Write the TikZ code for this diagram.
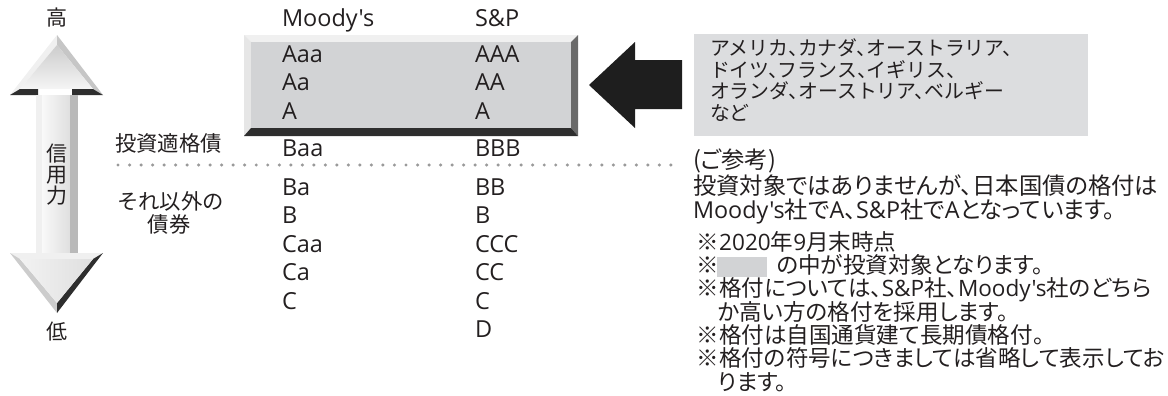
\documentclass[tikz,border=0pt]{standalone}
\usepackage{fontspec}
\setmainfont{Noto Sans CJK JP}[RawFeature=+palt]
\newfontfamily\jpm{Noto Sans CJK JP}
\newfontfamily\osans{Open Sans}
\newcommand\jten{、\kern-.5em}
\definecolor{txt}{HTML}{231F20}
\definecolor{face}{HTML}{D2D3D5}
\definecolor{boxgray}{HTML}{DCDDDF}
\definecolor{bevtop}{HTML}{F0F0F0}
\definecolor{bevleft}{HTML}{E6E6E6}
\definecolor{bevright}{HTML}{6A6A6A}
\definecolor{bevbot}{HTML}{2E2E2E}
\definecolor{arrblack}{HTML}{1E1E1E}
\definecolor{dotgray}{HTML}{9A9A9A}
\begin{document}
\begin{tikzpicture}[x=0.75pt,y=-0.75pt,
  every node/.style={inner sep=0pt,outer sep=0pt,text=txt},
  rt/.style={anchor=base west,font=\osans\fontsize{17.6}{20}\selectfont},
  lab/.style={font=\jpm\fontsize{16}{19}\selectfont,text height=0.8em,text depth=0.08em},
  ar/.style={anchor=base,font=\jpm\fontsize{15.75}{18}\selectfont},
  gb/.style={anchor=base west,font=\jpm\fontsize{14.9}{18}\selectfont,text height=0.8em,text depth=0.1em},
  nt/.style={anchor=base west,font=\fontsize{17.5}{20}\selectfont,text height=0.8em,text depth=0.1em},
  nl/.style={anchor=base west,font=\fontsize{16.9}{20}\selectfont,text height=0.8em,text depth=0.1em}]
\useasboundingbox (0,0) rectangle (1168,396);

% ---------- double arrow (credit) ----------
% up head
\fill[color=bevtop] (57,35) -- (10,95) -- (20,89) -- (57,45) -- cycle;
\fill[color=gray!45] (57,35) -- (103,95) -- (93,89) -- (57,45) -- cycle;
\shade[top color=gray!40,bottom color=gray!8] (57,45) -- (20,89) -- (93,89) -- cycle;
\fill[color=bevbot] (10,95) -- (20,89) -- (38,89) -- (38,95) -- cycle;
\fill[color=bevbot] (72,89) -- (93,89) -- (103,95) -- (72,95) -- cycle;
% shaft
\fill[color=bevtop] (36,95) rectangle (42,253);
\shade[left color=gray!5,right color=gray!25] (42,95) rectangle (70,253);
\fill[color=gray!55] (70,95) rectangle (78,253);
% down head
\fill[color=gray!12] (10,253) -- (103,253) -- (93,259) -- (20,259) -- cycle;
\fill[color=gray!40] (10,253) -- (20,259) -- (57,303) -- (57,313) -- cycle;
\fill[color=bevbot] (103,253) -- (93,259) -- (57,303) -- (57,313) -- cycle;
\shade[left color=gray!10,right color=gray!25] (20,259) -- (93,259) -- (57,303) -- cycle;

\node[ar] (hi) at (57,25.5) {高};
\node[ar] (lo) at (57,339) {低};
\node[ar] (c1) at (57,161) {信};
\node[ar] (c2) at (57,182) {用};
\node[ar] (c3) at (57,203) {力};

% ---------- left labels ----------
\node[lab,anchor=base west] (inv) at (115,151) {投資適格債};
\node[lab,anchor=base west] (oth1) at (117,209.6) {それ以外の};
\node[lab,anchor=base] (oth2) at (169,232) {債券};

% ---------- bevelled box ----------
\fill[color=bevtop] (244,35) -- (578,35) -- (571,42) -- (251,42) -- cycle;
\fill[color=bevleft] (244,35) -- (251,42) -- (251,128) -- (244,136) -- cycle;
\fill[color=bevright] (578,35) -- (578,136) -- (571,128) -- (571,42) -- cycle;
\fill[color=bevbot] (244,136) -- (578,136) -- (571,128) -- (251,128) -- cycle;
\fill[color=face] (251,42) rectangle (571,128);

% dotted separator
\draw[color=dotgray,line width=2.6pt,line cap=round,dash pattern=on 0pt off 8.64pt] (118,165) -- (672,165);

% ---------- ratings ----------
\node[rt] (hm) at (282,26.5) {Moody's};
\node[rt] (hs) at (475,26.5) {S\&P};
\node[rt] (m1) at (282,62.3) {Aaa};
\node[rt] (s1) at (475,62.3) {AAA};
\node[rt] (m2) at (282,90.8) {Aa};
\node[rt] (s2) at (475,90.8) {AA};
\node[rt] (m3) at (282,119.3) {A};
\node[rt] (s3) at (475,119.3) {A};
\node[rt] (m4) at (282,156.7) {Baa};
\node[rt] (s4) at (475,156.7) {BBB};
\node[rt] (m5) at (282,195) {Ba};
\node[rt] (s5) at (475,195) {BB};
\node[rt] (m6) at (282,223.5) {B};
\node[rt] (s6) at (475,223.5) {B};
\node[rt] (m7) at (282,252) {Caa};
\node[rt] (s7) at (475,252) {CCC};
\node[rt] (m8) at (282,280.5) {Ca};
\node[rt] (s8) at (475,280.5) {CC};
\node[rt] (m9) at (282,309) {C};
\node[rt] (s9) at (475,309) {C};
\node[rt] (s10) at (475,337.5) {D};

% ---------- black arrow ----------
\fill[color=arrblack] (589,85) -- (635,42) -- (635,60) -- (682,60) -- (682,109) -- (635,109) -- (635,128) -- cycle;

% ---------- gray country box ----------
\fill[color=boxgray] (694,34) rectangle (1088,136);
\node[gb] (g1) at (710,55.9) {アメリカ\jten カナダ\jten オーストラリア、};
\node[gb] (g2) at (710,77.4) {ドイツ\jten フランス\jten イギリス、};
\node[gb] (g3) at (710,98.9) {オランダ\jten オーストリア\jten ベルギー};
\node[gb] (g4) at (710,120.4) {など};

% ---------- notes ----------
\node[nt] (n0) at (693,168) {(ご参考)};
\node[nt] (n1) at (693,194) {投資対象ではありませんが、日本国債の格付は};
\node[nt] (n2) at (693,218.5) {{\osans Moody's}社で{\osans A}、{\osans S\&P}社で{\osans A}となっています。};
\node[nl] (n3) at (696.7,250.1) {※{\osans 2020}年{\osans 9}月末時点};
\node[nl] (n4) at (696.7,273.4) {※};
\fill[color=face] (717,257) rectangle (767,277);
\node[nl] (n4b) at (776.7,273.4) {の中が投資対象となります。};
\node[nl] (n5) at (696.7,296.7) {※格付については、{\osans S\&P}社、{\osans Moody's}社のどちら};
\node[nl] (n6) at (718,320.1) {か高い方の格付を採用します。};
\node[nl] (n7) at (696.7,343.4) {※格付は自国通貨建て長期債格付。};
\node[nl] (n8) at (696.7,366.7) {※格付の符号につきましては省略して表示してお};
\node[nl] (n9) at (718,390.1) {ります。};
\end{tikzpicture}
\end{document}
